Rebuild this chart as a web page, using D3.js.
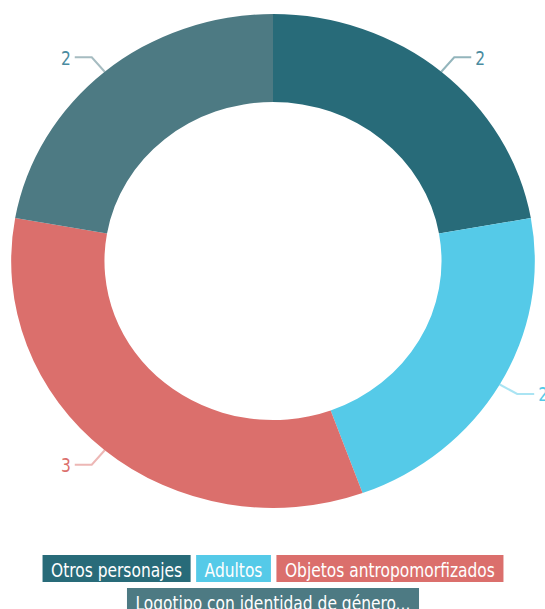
<!DOCTYPE html>
<html>
<head>
<meta charset="utf-8">
<script src="https://cdn.jsdelivr.net/npm/d3@7"></script>
<style>
  html, body { margin: 0; padding: 0; background: #fff; }
  svg { display: block; }
</style>
</head>
<body>
<svg id="chart" width="545" height="609"></svg>
<script>
const categories = ["Otros personajes", "Adultos", "Objetos antropomorfizados", "Logotipo con identidad de género..."];
const values = [2, 2, 3, 2];
const colors = ["#286b79", "#55cae8", "#db6f6c", "#4d7a83"];

const W = 545, H = 609;
const cx = 273, cy = 261;
const sx = 1.06;           // horizontal stretch seen in the reference
const outerR = 247, innerR = 159;
const font = "'DejaVu Sans Condensed', 'DejaVu Sans', sans-serif";
const textScale = 0.86;    // narrow letterforms

const svg = d3.select("#chart");
const data = categories.map((c, i) => ({ cat: c, value: values[i], color: colors[i] }));

const pie = d3.pie().value(d => d.value).sort(null);
const arcs = pie(data);
const arc = d3.arc().innerRadius(innerR).outerRadius(outerR);

const g = svg.append("g").attr("transform", `translate(${cx},${cy}) scale(${sx},1)`);
g.selectAll("path").data(arcs).enter().append("path")
  .attr("d", arc)
  .attr("fill", d => d.data.color);

// Labels with leader lines
const lg = svg.append("g").attr("transform", `translate(${cx},${cy})`);
const pt = (a, r) => [Math.sin(a) * r * sx, -Math.cos(a) * r];
arcs.forEach(d => {
  const mid = (d.startAngle + d.endAngle) / 2;
  const p0 = pt(mid, outerR);
  const p1 = pt(mid, outerR + 19);
  const right = Math.sin(mid) >= 0;
  const p2 = [p1[0] + (right ? 17 : -17), p1[1]];
  lg.append("polyline")
    .attr("points", [p0, p1, p2].map(p => p.join(",")).join(" "))
    .attr("fill", "none")
    .attr("stroke", d.data.color)
    .attr("stroke-opacity", 0.5)
    .attr("stroke-width", 2);
  const tx = p2[0] + (right ? 4 : -4), ty = p2[1] + 1.5;
  lg.append("text")
    .attr("transform", `translate(${tx},${ty}) scale(${textScale},1)`)
    .attr("text-anchor", right ? "start" : "end")
    .attr("dominant-baseline", "middle")
    .attr("font-family", font)
    .attr("font-size", 20)
    .attr("fill", (d.data.color === "#286b79" || d.data.color === "#4d7a83") ? "#4a8ba0" : d.data.color)
    .text(d.data.value);
});

// Legend
const legend = svg.append("g");
const fs = 20, boxH = 27, pad = 8.5, gap = 5.5;
const items = data.map(d => {
  const t = legend.append("text")
    .attr("font-family", font).attr("font-size", fs)
    .attr("fill", "#fff").text(d.cat);
  const w = t.node().getComputedTextLength() * textScale;
  return { d, t, w: w + 2 * pad };
});
const rows = [items.slice(0, 3), items.slice(3)];
const rowY = [555, 588];
rows.forEach((row, ri) => {
  const total = d3.sum(row, it => it.w) + gap * (row.length - 1);
  let x = cx - total / 2;
  row.forEach(it => {
    legend.insert("rect", "text")
      .attr("x", x).attr("y", rowY[ri])
      .attr("width", it.w).attr("height", boxH)
      .attr("fill", it.d.color);
    it.t.attr("transform", `translate(${x + pad},${rowY[ri] + 21.5}) scale(${textScale},1)`);
    x += it.w + gap;
  });
});
</script>
</body>
</html>
